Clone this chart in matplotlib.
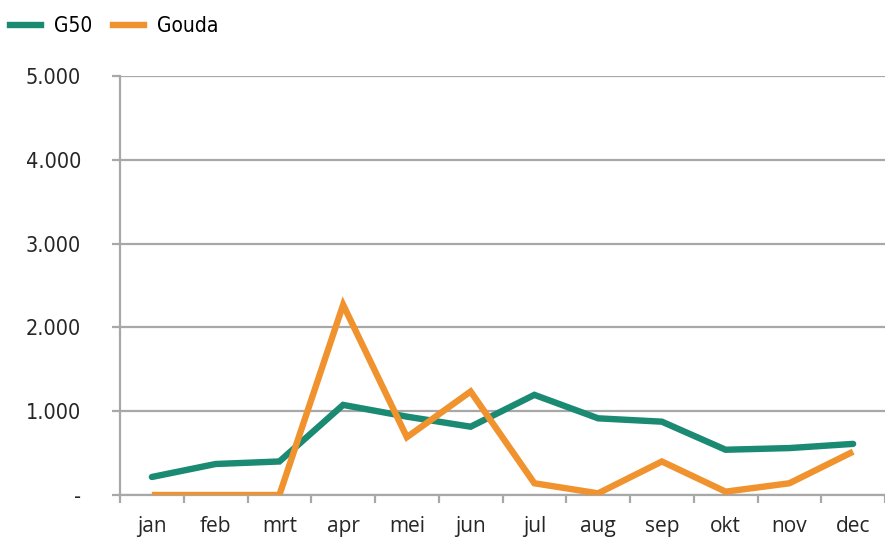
import matplotlib
matplotlib.use("Agg")
import matplotlib.pyplot as plt
from matplotlib.lines import Line2D
from matplotlib.font_manager import FontProperties

months = ["jan", "feb", "mrt", "apr", "mei", "jun", "jul", "aug", "sep", "okt", "nov", "dec"]
g50 = [215, 370, 400, 1075, 935, 815, 1195, 915, 875, 540, 560, 610]
gouda = [0, 0, 0, 2270, 690, 1235, 140, 20, 400, 40, 140, 517]
yticks = [0, 1000, 2000, 3000, 4000, 5000]
ytick_labels = ["-", "1.000", "2.000", "3.000", "4.000", "5.000"]

TEAL = "#1a8a72"
ORANGE = "#f0922e"
GRID = "#a8a8a8"
TEXT = "#262626"

fig = plt.figure(figsize=(8.85, 5.4), dpi=100)
W, H = 885, 540
# axes: left edge at x=120, y=0 at 495 px, y=5000 at 76 px
ax = fig.add_axes([120 / W, (H - 495) / H, (885 - 120) / W, (495 - 76) / H])

x = list(range(len(months)))
ax.plot(x, g50, color=TEAL, lw=4.6, solid_capstyle="round", solid_joinstyle="miter", zorder=3)
ax.plot(x, gouda, color=ORANGE, lw=4.6, solid_capstyle="butt", solid_joinstyle="miter", zorder=4)

step = 64.2
ax.set_xlim(-0.5, -0.5 + 765 / step)
ax.set_ylim(0, 5000)

narrow = FontProperties(family="DejaVu Sans", stretch="condensed", size=15.5)
ax.set_yticks(yticks)
ax.set_yticklabels(ytick_labels, fontproperties=narrow, color=TEXT)
ax.yaxis.grid(True, color=GRID, lw=1.6)
ax.tick_params(axis="y", length=6, width=1.6, color=GRID, pad=22)

ax.set_xticks(x)
ax.set_xticklabels(months, family="Open Sans", fontsize=15, color=TEXT)
ax.set_xticks([i - 0.5 for i in range(len(months) + 1)], minor=True)
ax.tick_params(axis="x", which="major", length=0, pad=15)
ax.tick_params(axis="x", which="minor", length=6, width=1.6, color=GRID)

for side in ["top", "right"]:
    ax.spines[side].set_visible(False)
for side in ["left", "bottom"]:
    ax.spines[side].set_color(GRID)
    ax.spines[side].set_linewidth(1.6)
ax.set_axisbelow(True)

handles = [Line2D([], [], color=TEAL, lw=4.6), Line2D([], [], color=ORANGE, lw=4.6)]
fig.legend(handles, ["G50", "Gouda"], loc="center left", bbox_to_anchor=(10 / W, 1 - 26 / H),
           ncol=2, frameon=False, handlelength=1.5, handletextpad=0.6, columnspacing=1.0,
           borderpad=0, borderaxespad=0,
           prop=FontProperties(family="DejaVu Sans", stretch="condensed", size=15))

fig.savefig("out.png", dpi=100)
